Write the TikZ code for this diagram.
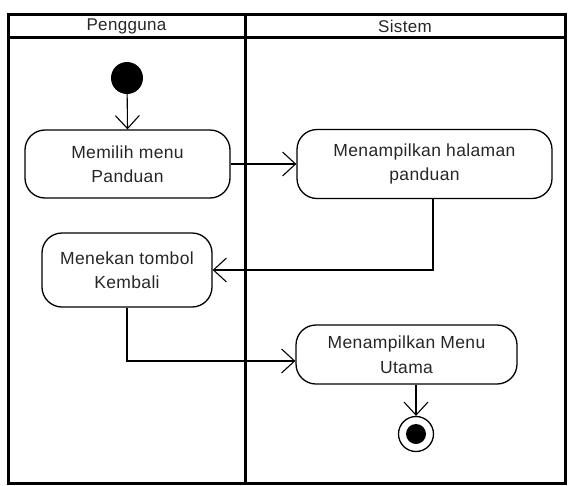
\documentclass[tikz,border=0pt]{standalone}
\usepackage{fontspec}
\setmainfont[LetterSpace=2]{Liberation Sans}
\usetikzlibrary{arrows.meta}
\begin{document}
\begin{tikzpicture}[x=1pt,y=-1pt,
  lane/.style={line width=3pt, black},
  lanetitle/.style={font=\fontsize{17}{20}\selectfont, text=black!85},
  activity/.style={draw, line width=1.3pt, rounded corners=20pt, align=center,
    inner sep=0pt, font=\fontsize{17.5}{24.5}\selectfont, text=black!85},
  flow/.style={line width=1.1pt, -{Straight Barb[length=13pt,width=24pt,line width=1.1pt]}},
  startstate/.style={circle, fill=black, minimum size=32pt, inner sep=0pt},
  endring/.style={circle, draw, line width=1.3pt, minimum size=35pt, inner sep=0pt},
  enddot/.style={circle, fill=black, minimum size=20pt, inner sep=0pt}]
  \useasboundingbox (0,0) rectangle (568,485);

  % swimlane frame
  \draw[lane] (8,14) rectangle (565,483);
  \draw[lane] (8,37) -- (565,37);
  \draw[lane] (245,14) -- (245,483);
  \node[lanetitle] (lanea) at (126.5,26) {Pengguna};
  \node[lanetitle] (laneb) at (405,26) {Sistem};

  % states and activities
  \node[startstate] (start) at (127,78) {};
  \node[activity, minimum width=205pt, minimum height=68pt] (memilih) at (127.5,164) {Memilih menu\\Panduan};
  \node[activity, minimum width=255pt, minimum height=69pt] (halaman) at (424.5,164) {Menampilkan halaman\\panduan};
  \node[activity, minimum width=170pt, minimum height=74pt] (menekan) at (127,270) {Menekan tombol\\Kembali};
  \node[activity, minimum width=221pt, minimum height=59pt] (utama) at (406.5,354.5) {Menampilkan Menu\\Utama};
  \node[endring] (final) at (416,434) {};
  \node[enddot] (finaldot) at (final.center) {};

  % control flow
  \draw[flow] (start) -- (memilih.north);
  \draw[flow] (memilih.east) -- (halaman.west);
  \draw[flow] ([xshift=8.5pt]halaman.south) |- (menekan.east);
  \draw[flow] (menekan.south) |- ([yshift=-6.5pt]utama.west);
  \draw[flow] ([xshift=9.5pt]utama.south) -- (final.north);
\end{tikzpicture}
\end{document}
